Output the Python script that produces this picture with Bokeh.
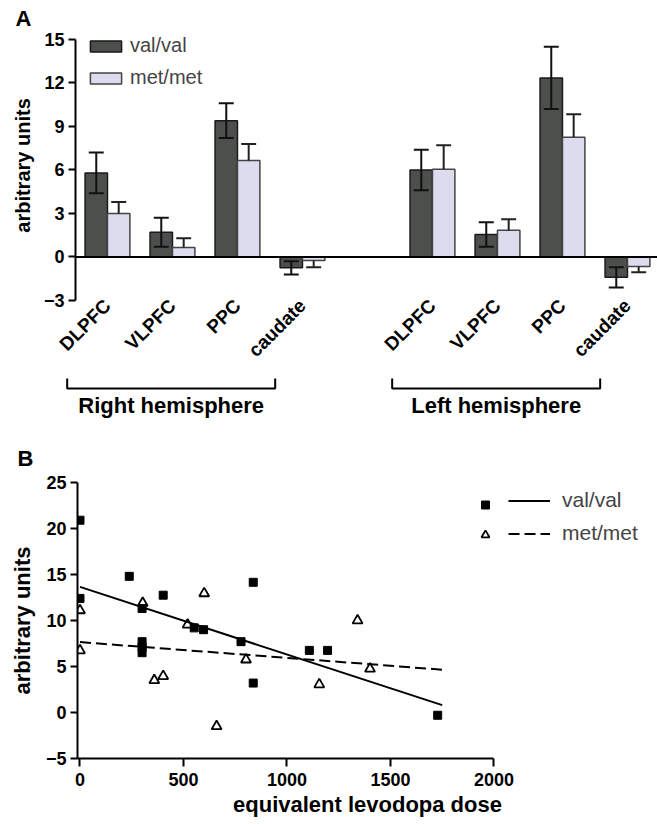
import math
from bokeh.plotting import figure
from bokeh.models import Range1d, FixedTicker, Span, Legend, LegendItem
from bokeh.embed import file_html
from bokeh.resources import INLINE
from bokeh.core.properties import value

# ---------------- data: panel A ----------------
regions = ["DLPFC", "VLPFC", "PPC", "caudate"]
hemispheres = ["Right hemisphere", "Left hemisphere"]
genotypes = ["val/val", "met/met"]

val_right_mean = [5.8, 1.7, 9.4, -0.75]
val_right_err = [1.4, 1.0, 1.2, 0.45]
met_right_mean = [3.0, 0.65, 6.65, -0.25]
met_right_err = [0.8, 0.65, 1.15, 0.45]
val_left_mean = [6.0, 1.55, 12.35, -1.4]
val_left_err = [1.4, 0.85, 2.15, 0.7]
met_left_mean = [6.05, 1.85, 8.25, -0.65]
met_left_err = [1.65, 0.75, 1.6, 0.4]

a_ticks = [-3, 0, 3, 6, 9, 12, 15]

# ---------------- data: panel B ----------------
val_dose = [0, 0, 238, 300, 300, 300, 300, 402, 552, 597, 778, 837, 837, 1108, 1196, 1728]
val_units = [20.9, 12.4, 14.8, 11.3, 7.7, 7.1, 6.5, 12.75, 9.2, 9.0, 7.7, 14.15, 3.2, 6.75, 6.75, -0.3]
met_dose = [0, 0, 303, 359, 402, 520, 600, 660, 802, 1156, 1341, 1401]
met_units = [11.1, 6.75, 11.9, 3.5, 3.95, 9.55, 12.95, -1.5, 5.75, 3.05, 10.0, 4.75]
fit_dose = [0, 1750]
val_fit = [13.65, 0.8]
met_fit = [7.65, 4.65]

b_yticks = [-5, 0, 5, 10, 15, 20, 25]
b_xticks = [0, 500, 1000, 1500, 2000]

# ---------------- style / layout ----------------
FONT = "Liberation Sans"
VAL_FILL = "#4c4f4b"
MET_FILL = "#dddcee"
FIG_W = 657
SLOTS_PER_HEMI = 5
BAR_W = 0.345
CAP_HALF = 0.115
A_X0, A_X1 = -0.492, 8.462
A_LEFT, A_TOP, A_BOTTOM = 75, 30, 72
A1_H = 372
A2_H = 48
BRACKET_PAD = (0.62, 0.42)
BRACKET_Y = (6, 16)
HEMI_TEXT_Y = 33
B_H = 404
B_LEFT, B_TOP, B_BOTTOM = 77, 62, 66
B_PX_PER_DOSE = 0.207
B_X0 = -12


def style_axis(ax, label_size="18px"):
    ax.axis_line_width = 2
    ax.axis_line_color = "black"
    ax.major_tick_line_width = 2
    ax.major_tick_line_color = "black"
    ax.minor_tick_line_color = None
    ax.major_tick_in = 0
    ax.major_label_text_font = FONT
    ax.major_label_text_font_style = "bold"
    ax.major_label_text_font_size = label_size
    ax.major_label_text_color = "black"
    ax.axis_label_text_font = FONT
    ax.axis_label_text_font_style = "bold"
    ax.axis_label_text_color = "black"


def style_title(p, text, size, offset, standoff):
    p.title.text = text
    p.title.align = "left"
    p.title.offset = offset
    p.title.standoff = standoff
    p.title.text_font = FONT
    p.title.text_font_style = "bold"
    p.title.text_font_size = size
    p.title.text_color = "black"


# ================= Panel A (bars) =================
pa = figure(width=FIG_W, height=A1_H, output_backend="svg", toolbar_location=None,
            x_range=Range1d(A_X0, A_X1), y_range=Range1d(-3, 15.62),
            min_border_left=A_LEFT, min_border_right=0, min_border_top=A_TOP,
            min_border_bottom=A_BOTTOM)
pa.outline_line_color = None
pa.xgrid.visible = False
pa.ygrid.visible = False

pos, names, vm, ve, mm, me = [], [], [], [], [], []
for h, (vmean, verr, mmean, merr) in enumerate([
        (val_right_mean, val_right_err, met_right_mean, met_right_err),
        (val_left_mean, val_left_err, met_left_mean, met_left_err)]):
    for i in range(len(regions)):
        pos.append(h * SLOTS_PER_HEMI + i)
        names.append(regions[i])
        vm.append(vmean[i]); ve.append(verr[i])
        mm.append(mmean[i]); me.append(merr[i])

vx = [p - BAR_W / 2 for p in pos]
mx = [p + BAR_W / 2 for p in pos]

val_r = pa.vbar(x=vx, top=vm, bottom=0, width=BAR_W, fill_color=VAL_FILL,
                line_color="#1a1a1a", line_width=1.5)
met_r = pa.vbar(x=mx, top=mm, bottom=0, width=BAR_W, fill_color=MET_FILL,
                line_color="#444444", line_width=1.5)

# error bars val/val (both directions)
v_lo = [m - e for m, e in zip(vm, ve)]
v_hi = [m + e for m, e in zip(vm, ve)]
pa.segment(x0=vx, y0=v_lo, x1=vx, y1=v_hi, line_color="#111111", line_width=2)
cap_y = v_lo + v_hi
cap_x = vx + vx
pa.segment(x0=[x - CAP_HALF for x in cap_x], y0=cap_y, x1=[x + CAP_HALF for x in cap_x], y1=cap_y,
           line_color="#111111", line_width=2)
# error bars met/met (away from zero)
m_end = [m + (e if m >= 0 else -e) for m, e in zip(mm, me)]
pa.segment(x0=mx, y0=mm, x1=mx, y1=m_end, line_color="#222222", line_width=2)
pa.segment(x0=[x - CAP_HALF for x in mx], y0=m_end, x1=[x + CAP_HALF for x in mx], y1=m_end,
           line_color="#222222", line_width=2)

pa.add_layout(Span(location=0, dimension="width", line_color="black", line_width=2))

ya = pa.yaxis[0]
style_axis(ya)
ya.ticker = FixedTicker(ticks=a_ticks)
ya.bounds = (-3, 15)
ya.major_tick_out = 7
ya.major_label_standoff = 4
ya.axis_label = "arbitrary units"
ya.axis_label_text_font_size = "20px"
ya.axis_label_standoff = 7

xa = pa.xaxis[0]
style_axis(xa, "19px")
xa.ticker = FixedTicker(ticks=pos)
xa.major_label_overrides = {p: t for p, t in zip(pos, names)}
xa.major_label_orientation = math.pi / 4
xa.axis_line_color = None
xa.major_tick_line_color = None
xa.major_tick_out = 0
xa.major_label_standoff = 2

leg_a = Legend(items=[LegendItem(label=genotypes[0], renderers=[val_r]),
                      LegendItem(label=genotypes[1], renderers=[met_r])],
               location=(11, 211), glyph_width=39, glyph_height=14, label_height=20,
               spacing=9, padding=0, margin=0, label_standoff=5,
               border_line_color=None, background_fill_alpha=0,
               label_text_font=FONT, label_text_font_size="20px")
pa.add_layout(leg_a)
style_title(pa, "A", "22px", -60, 0)

# ================= Panel A (hemisphere brackets) =================
ppu = (FIG_W - A_LEFT) / (A_X1 - A_X0)
pa2 = figure(width=FIG_W, height=A2_H, output_backend="svg", toolbar_location=None,
             x_range=Range1d(A_X0 - A_LEFT / ppu, A_X1), y_range=Range1d(A2_H, 0),
             min_border=0, min_border_left=0, min_border_right=0, min_border_top=0,
             min_border_bottom=0, x_axis_location=None, y_axis_location=None)
pa2.outline_line_color = None
pa2.xgrid.visible = False
pa2.ygrid.visible = False
br_x0, br_x1 = [], []
for h in range(len(hemispheres)):
    first = h * SLOTS_PER_HEMI
    last = first + len(regions) - 1
    br_x0.append(first - BRACKET_PAD[0])
    br_x1.append(last - BRACKET_PAD[1])
y_top, y_bot = BRACKET_Y
pa2.multi_line(xs=[[a, a, b, b] for a, b in zip(br_x0, br_x1)],
               ys=[[y_top, y_bot, y_bot, y_top]] * len(hemispheres), line_color="black", line_width=2)
pa2.text(x=[(a + b) / 2 for a, b in zip(br_x0, br_x1)], y=[HEMI_TEXT_Y] * len(hemispheres),
         text=hemispheres, text_align="center", text_baseline="middle", text_font=value(FONT),
         text_font_style="bold", text_font_size="22px", text_color="black")

# ================= Panel B (scatter) =================
pb = figure(width=FIG_W, height=B_H, output_backend="svg", toolbar_location=None,
            x_range=Range1d(B_X0, B_X0 + (FIG_W - B_LEFT) / B_PX_PER_DOSE), y_range=Range1d(-5, 25),
            min_border_left=B_LEFT, min_border_right=0, min_border_top=B_TOP,
            min_border_bottom=B_BOTTOM)
pb.outline_line_color = None
pb.xgrid.visible = False
pb.ygrid.visible = False

vline = pb.line(fit_dose, val_fit, line_color="black", line_width=2)
mline = pb.line(fit_dose, met_fit, line_color="black", line_width=2, line_dash="11 5")
sq = pb.scatter(val_dose, val_units, marker="square", size=8, fill_color="black", line_color="black")
tri = pb.scatter(met_dose, met_units, marker="triangle", size=10, fill_color=None,
                 line_color="black", line_width=1.8)

yb = pb.yaxis[0]
style_axis(yb)
yb.ticker = FixedTicker(ticks=b_yticks)
yb.bounds = (-5, 25)
yb.major_tick_out = 7
yb.major_label_standoff = 4
yb.axis_label = "arbitrary units"
yb.axis_label_text_font_size = "22px"
yb.axis_label_standoff = 8

xb = pb.xaxis[0]
style_axis(xb)
xb.ticker = FixedTicker(ticks=b_xticks)
xb.bounds = (B_X0, 2000)
xb.major_tick_out = 8
xb.major_label_text_line_height = 1.0
xb.axis_label_text_line_height = 1.0
xb.major_label_standoff = 6
xb.axis_label = "equivalent levodopa dose"
xb.axis_label_text_font_size = "22px"
xb.axis_label_standoff = 3

leg_m = Legend(items=[LegendItem(label=" ", renderers=[sq]), LegendItem(label=" ", renderers=[tri])],
               location=(398, 213), glyph_width=20, glyph_height=21, label_height=21, label_width=0,
               spacing=9, padding=0, margin=0, label_standoff=0,
               border_line_color=None, background_fill_alpha=0,
               label_text_font=FONT, label_text_font_size="21px")
leg_l = Legend(items=[LegendItem(label=genotypes[0], renderers=[vline]),
                      LegendItem(label=genotypes[1], renderers=[mline])],
               location=(431, 213), glyph_width=42, glyph_height=21, label_height=21,
               spacing=9, padding=0, margin=0, label_standoff=12,
               border_line_color=None, background_fill_alpha=0,
               label_text_font=FONT, label_text_font_size="21px")
pb.add_layout(leg_m)
pb.add_layout(leg_l)
style_title(pb, "B", "22px", -60, 24)

with open("out.html", "w") as f:
    f.write(file_html([pa, pa2, pb], INLINE))
